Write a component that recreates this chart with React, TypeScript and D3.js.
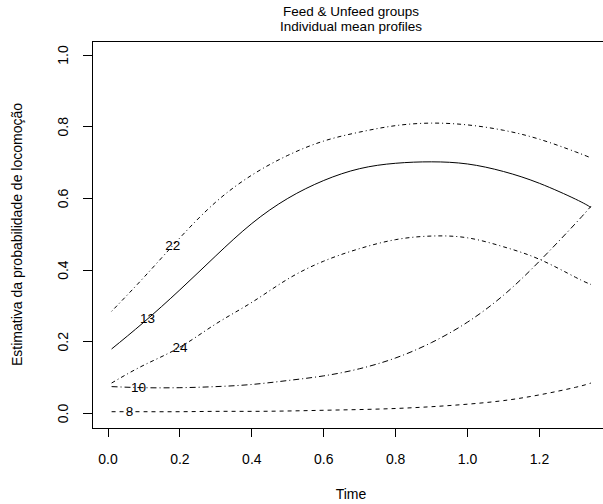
import React from "react";
import * as d3 from "d3";

// time grid the profiles were read at
const times = [0.01, 0.1, 0.2, 0.3, 0.4, 0.5, 0.6, 0.7, 0.8, 0.9, 1.0, 1.1, 1.2, 1.3, 1.343];

// estimated locomotion probability per individual
const ind22 = [0.285, 0.38, 0.49, 0.59, 0.665, 0.72, 0.76, 0.785, 0.803, 0.81, 0.805, 0.79, 0.765, 0.73, 0.713];
const ind13 = [0.18, 0.255, 0.345, 0.44, 0.53, 0.6, 0.65, 0.683, 0.698, 0.702, 0.696, 0.675, 0.642, 0.598, 0.575];
const ind24 = [0.085, 0.135, 0.185, 0.25, 0.31, 0.375, 0.425, 0.46, 0.485, 0.495, 0.49, 0.465, 0.43, 0.38, 0.36];
const ind10 = [0.075, 0.072, 0.072, 0.075, 0.081, 0.092, 0.105, 0.125, 0.155, 0.198, 0.255, 0.33, 0.425, 0.53, 0.578];
const ind8 = [0.005, 0.005, 0.005, 0.006, 0.006, 0.007, 0.009, 0.011, 0.014, 0.019, 0.026, 0.036, 0.052, 0.073, 0.085];

const seriesNames = ["22", "13", "24", "10", "8"];
const seriesValues = [ind22, ind13, ind24, ind10, ind8];
const labelTimes = [0.18, 0.11, 0.2, 0.085, 0.06];
const dashes = ["1,3,4,3", "", "4,3,1,3", "6,3,1,3", "4,4"];

const xTicks = [0, 0.2, 0.4, 0.6, 0.8, 1.0, 1.2];
const yTicks = [0, 0.2, 0.4, 0.6, 0.8, 1.0];

const W = 603;
const H = 504;
const box = { left: 92, right: 610, top: 41, bottom: 428 };
const font = "'Liberation Sans', Arial, Helvetica, sans-serif";
const fs = 14;

export default function App() {
  const x = d3.scaleLinear().domain([0, 1.2]).range([108, 539.5]);
  const y = d3.scaleLinear().domain([0, 1]).range([413.5, 55]);

  const line = d3
    .line<number>()
    .x((_, i) => x(times[i]))
    .y((d) => y(d))
    .curve(d3.curveNatural);

  // value of a series at time t, linear between read points
  const valueAt = (vals: number[], t: number) => {
    const i = Math.max(1, d3.bisectLeft(times, t));
    const t0 = times[i - 1], t1 = times[i];
    return vals[i - 1] + ((t - t0) / (t1 - t0)) * (vals[i] - vals[i - 1]);
  };

  const cx = (box.left + box.right) / 2;
  const cy = (box.top + box.bottom) / 2;

  return (
    <svg
      width={W}
      height={H}
      style={{ position: "absolute", left: 0, top: 0, background: "#fff" }}
      fontFamily={font}
    >
      <rect x={0} y={0} width={W} height={H} fill="#fff" />

      {/* title */}
      <text x={cx} y={16} textAnchor="middle" fontSize={13.5} fill="#000">
        Feed &amp; Unfeed groups
      </text>
      <text x={cx} y={31} textAnchor="middle" fontSize={13.5} fill="#000">
        Individual mean profiles
      </text>

      {/* curves */}
      {seriesValues.map((vals, k) => (
        <path
          key={"c" + k}
          d={line(vals) || ""}
          fill="none"
          stroke="#000"
          strokeWidth={1}
          strokeDasharray={dashes[k] || undefined}
        />
      ))}

      {/* curve labels */}
      {seriesNames.map((name, k) => (
        <text
          key={"l" + k}
          x={x(labelTimes[k])}
          y={y(valueAt(seriesValues[k], labelTimes[k]))}
          textAnchor="middle"
          dominantBaseline="central"
          fontSize={13.5}
          fill="#000"
        >
          {name}
        </text>
      ))}

      {/* box */}
      <path
        d={`M${box.right},${box.top}H${box.left}V${box.bottom}H${box.right}`}
        fill="none"
        stroke="#000"
        strokeWidth={1}
        shapeRendering="crispEdges"
      />

      {/* x axis */}
      {xTicks.map((t) => (
        <g key={"x" + t}>
          <line x1={x(t)} x2={x(t)} y1={box.bottom} y2={box.bottom + 9} stroke="#000" shapeRendering="crispEdges" />
          <text x={x(t)} y={464} textAnchor="middle" fontSize={fs} fill="#000">
            {d3.format(".1f")(t)}
          </text>
        </g>
      ))}
      <text x={cx} y={499} textAnchor="middle" fontSize={fs} fill="#000">
        Time
      </text>

      {/* y axis */}
      {yTicks.map((t) => (
        <g key={"y" + t}>
          <line x1={box.left - 9} x2={box.left} y1={y(t)} y2={y(t)} stroke="#000" shapeRendering="crispEdges" />
          <text
            transform={`translate(68,${y(t)}) rotate(-90)`}
            textAnchor="middle"
            fontSize={fs}
            fill="#000"
          >
            {d3.format(".1f")(t)}
          </text>
        </g>
      ))}
      <text
        transform={`translate(22,${cy}) rotate(-90)`}
        textAnchor="middle"
        fontSize={fs}
        fill="#000"
      >
        Estimativa da probabilidade de locomoção
      </text>
    </svg>
  );
}
